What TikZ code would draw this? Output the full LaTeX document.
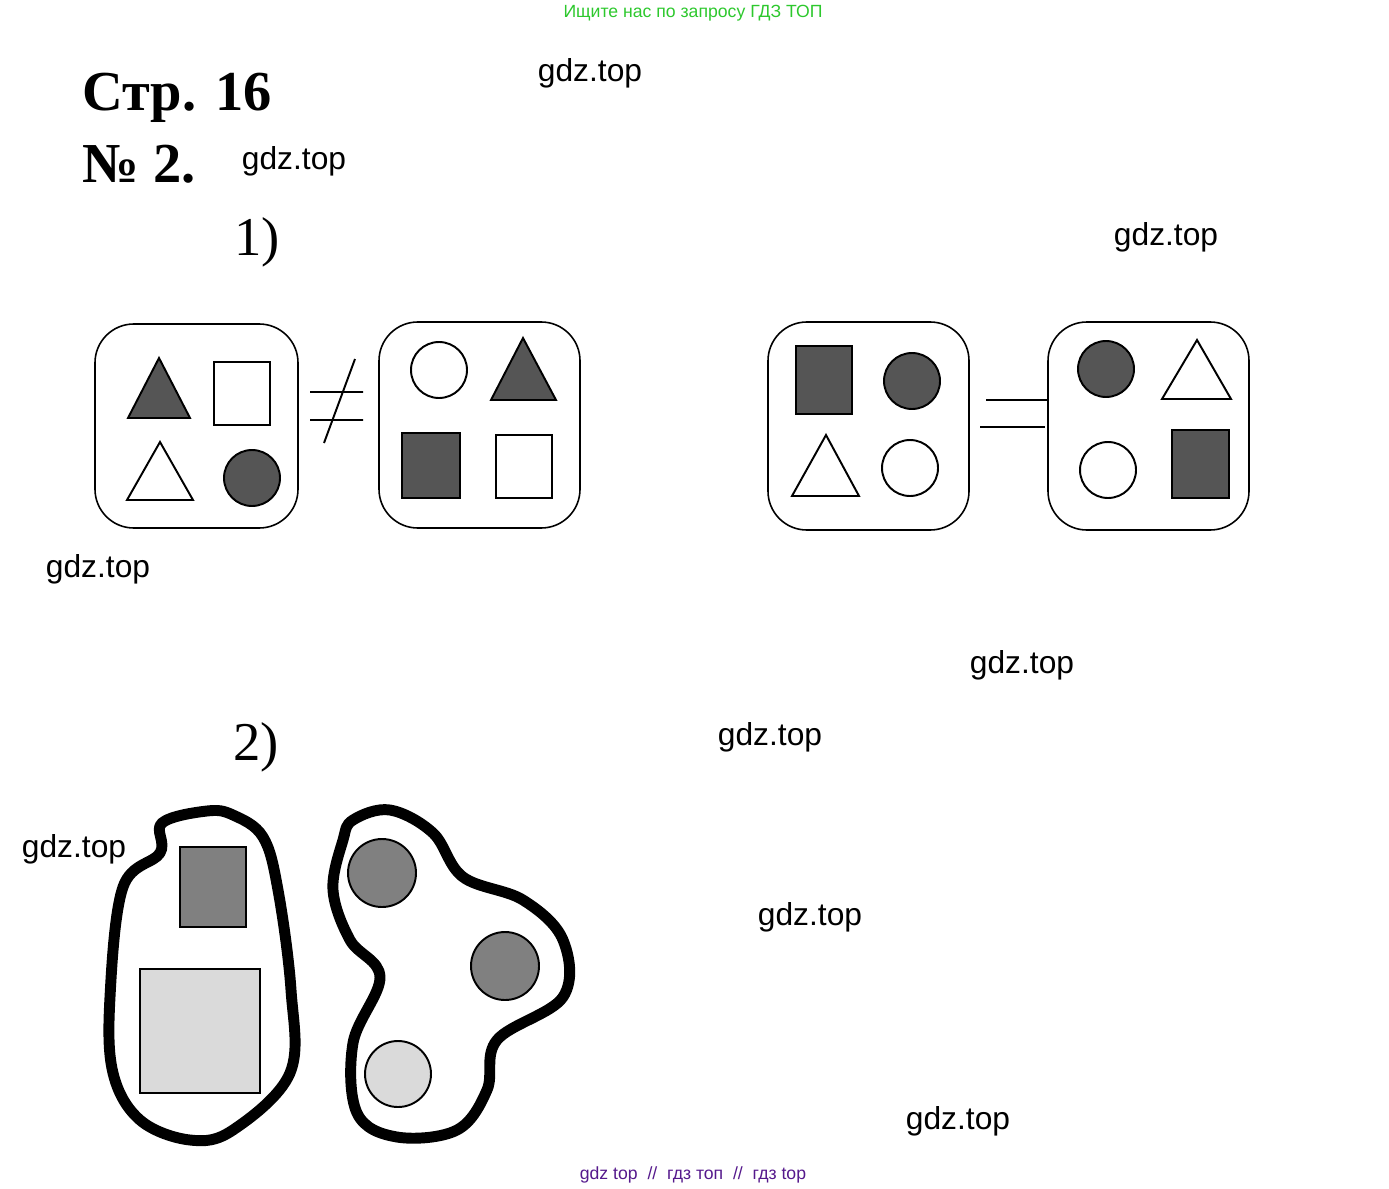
\documentclass[tikz,border=0pt]{standalone}
\usepackage{fontspec}
\setmainfont{Liberation Serif}
\newfontfamily\wmfont{Liberation Sans}
\definecolor{topgreen}{RGB}{45,200,45}
\definecolor{footpurple}{RGB}{85,25,140}
\definecolor{darkfill}{RGB}{85,85,85}
\definecolor{midfill}{RGB}{128,128,128}
\definecolor{lightfill}{RGB}{218,218,218}
\tikzset{
  wm/.style={font=\wmfont\fontsize{18}{20}\selectfont, inner sep=0pt},
  head/.style={font=\bfseries\fontsize{32}{36}\selectfont, anchor=base west, inner sep=0pt},
  part/.style={font=\fontsize{31}{34}\selectfont, anchor=base, inner sep=0pt},
  setbox/.style={draw, line width=0.9pt, rounded corners=22pt},
  fig/.style={draw, line width=1.1pt},
  dark/.style={fig, fill=darkfill},
  blob/.style={line width=6.2pt, line join=round},
}
\begin{document}
\begin{tikzpicture}[x=0.567pt, y=-0.567pt]
\useasboundingbox (0,0) rectangle (1389,1188);
% headings
\node[font=\wmfont\fontsize{10}{12}\selectfont, text=topgreen, inner sep=0pt] (search) at (693,13) {Ищите нас по запросу ГДЗ ТОП};
\node[head] (page) at (82,110) {Стр. 16};
\node[head] (task) at (82,182) {№ 2.};
\node[part] (one) at (257,255) {1)};
\node[part] (two) at (256,760) {2)};
% watermarks
\foreach \x/\y [count=\i] in {590/73, 294/161, 1166/237, 98/569, 1022/665, 770/737, 74/849, 810/917, 958/1121} {
  \node[wm] (wm\i) at (\x,\y) {gdz.top};
}
\node[font=\wmfont\fontsize{10}{12}\selectfont, text=footpurple, inner sep=0pt] (foot) at (693,1175) {gdz top\ \ //\ \ гдз топ\ \ //\ \ гдз top};
% 1) first pair
\draw[setbox] (95,324) rectangle (298,528);
\draw[dark] (128,418) -- (159,358) -- (190,418) -- cycle;
\draw[fig] (214,362) rectangle (270,425);
\draw[fig] (127,500) -- (160,442) -- (193,500) -- cycle;
\draw[dark] (252,478) circle (28);
\draw[line width=1.1pt] (310,392) -- (363,392) (310,420) -- (363,420) (355,359) -- (324,443);
\draw[setbox] (379,322) rectangle (580,528);
\draw[fig] (439,370) circle (28);
\draw[dark] (491,400) -- (523,338) -- (556,400) -- cycle;
\draw[dark] (402,433) rectangle (460,498);
\draw[fig] (496,435) rectangle (552,498);
% 1) second pair
\draw[setbox] (768,322) rectangle (969,530);
\draw[dark] (796,346) rectangle (852,414);
\draw[dark] (912,381) circle (28);
\draw[fig] (792,496) -- (826,435) -- (859,496) -- cycle;
\draw[fig] (910,468) circle (28);
\draw[line width=1.1pt] (986,400) -- (1047,400) (980,427) -- (1045,427);
\draw[setbox] (1048,322) rectangle (1249,530);
\draw[dark] (1106,369) circle (28);
\draw[fig] (1162,399) -- (1197,340) -- (1231,399) -- cycle;
\draw[fig] (1108,470) circle (28);
\draw[dark] (1172,430) rectangle (1229,498);
% 2) two groups
\draw[blob] plot[smooth cycle, tension=0.6] coordinates {(207,811) (162,823) (160,853) (123,887) (110,997) (113,1073) (140,1120) (190,1140) (233,1130) (290,1073) (291,990) (278,890) (263,837) (233,815)};
\draw[fig, fill=midfill] (180,847) rectangle (246,927);
\draw[fig, fill=lightfill] (140,969) rectangle (260,1093);
\draw[blob] plot[smooth cycle, tension=0.6] coordinates {(353,820) (390,810) (433,833) (463,877) (523,900) (563,940) (563,997) (497,1040) (487,1090) (457,1130) (397,1137) (357,1113) (353,1043) (380,977) (350,940) (333,890) (343,840)};
\draw[fig, fill=midfill] (382,873) circle (34);
\draw[fig, fill=midfill] (505,966) circle (34);
\draw[fig, fill=lightfill] (398,1074) circle (33);
\end{tikzpicture}
\end{document}
